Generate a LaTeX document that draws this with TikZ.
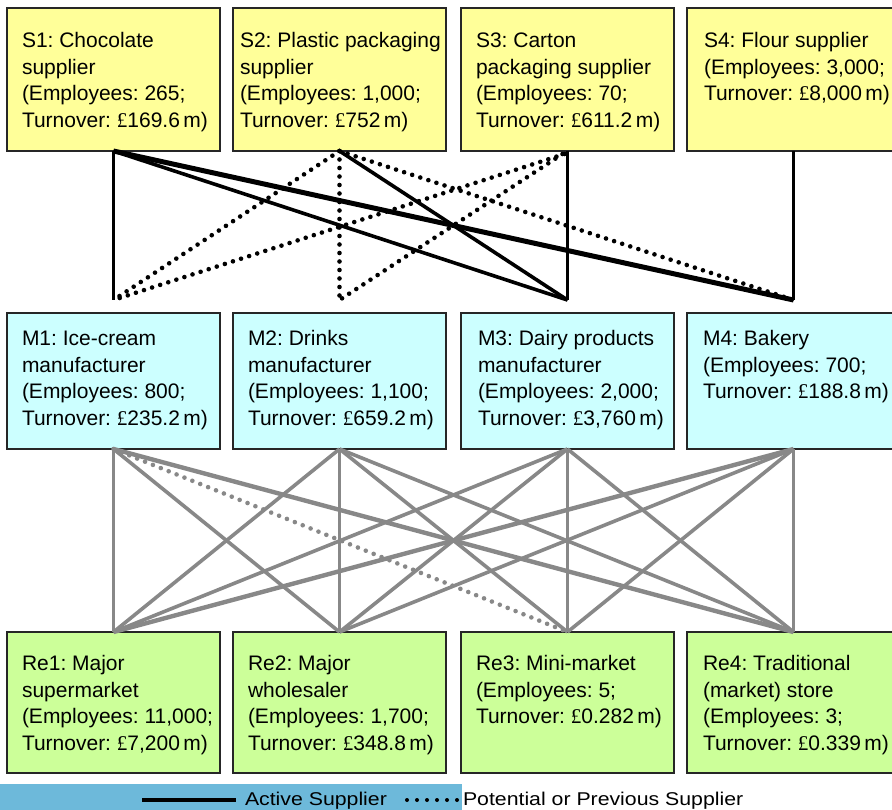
\documentclass[tikz,border=0pt]{standalone}
\usepackage{fontspec}
\setmainfont{Liberation Sans}
\newfontfamily\pndfont{Liberation Serif}
\usepackage{graphicx}
\definecolor{sy}{HTML}{FFFF99}
\definecolor{mc}{HTML}{CCFFFF}
\definecolor{rg}{HTML}{CCFF99}
\definecolor{legblue}{HTML}{6DB9DA}
\definecolor{gl}{HTML}{888888}
\newcommand{\ml}[1]{\begin{tabular}[t]{@{}l@{}}#1\end{tabular}}
\newcommand{\pnd}{{\pndfont £}}
\frenchspacing
\begin{document}
\begin{tikzpicture}[x=1pt,y=-1pt,
  box/.style={draw=black!85, line width=1.4pt, anchor=north west, inner sep=0pt, outer sep=0pt, minimum width=213pt},
  toprow/.style={box, fill=sy, minimum height=143pt},
  midrow/.style={box, fill=mc, minimum height=136pt},
  botrow/.style={box, fill=rg, minimum height=141pt},
  lbl/.style={anchor=base west, inner sep=0pt, outer sep=0pt, font=\fontsize{21}{26.7}\selectfont},
  leglbl/.style={anchor=base west, inner sep=0pt, outer sep=0pt, font=\fontsize{18.5}{22}\selectfont},
  act/.style={line width=3.6pt, black},
  pot/.style={line width=4.6pt, black, dash pattern=on 0pt off 8.5pt, line cap=round},
  gact/.style={line width=3.6pt, gl},
  gpot/.style={line width=4.6pt, gl, dash pattern=on 0pt off 8.5pt, line cap=round}]
\useasboundingbox (0,0) rectangle (892,809);

% top row
\node[toprow] (S1) at (7,8) {};
\node[toprow] (S2) at (233,8) {};
\node[toprow] (S3) at (461,8) {};
\node[toprow] (S4) at (687,8) {};
% middle row
\node[midrow] (M1) at (7,313) {};
\node[midrow] (M2) at (233,313) {};
\node[midrow] (M3) at (461,313) {};
\node[midrow] (M4) at (687,313) {};
% bottom row
\node[botrow] (R1) at (7,632) {};
\node[botrow] (R2) at (233,632) {};
\node[botrow] (R3) at (461,632) {};
\node[botrow] (R4) at (687,632) {};

% texts
\node[lbl] (S1t) at (22,47.5) {\ml{S1: Chocolate\\supplier\\(Employees: 265;\\Turnover: \pnd169.6\,m)}};
\node[lbl] (S2t) at (240,47.5) {\ml{S2: Plastic packaging\\supplier\\(Employees: 1,000;\\Turnover: \pnd752\,m)}};
\node[lbl] (S3t) at (476,47.5) {\ml{S3: Carton\\packaging supplier\\(Employees: 70;\\Turnover: \pnd611.2\,m)}};
\node[lbl] (S4t) at (704,47.5) {\ml{S4: Flour supplier\\(Employees: 3,000;\\Turnover: \pnd8,000\,m)}};

\node[lbl] (M1t) at (22,345.5) {\ml{M1: Ice-cream\\manufacturer\\(Employees: 800;\\Turnover: \pnd235.2\,m)}};
\node[lbl] (M2t) at (248,345.5) {\ml{M2: Drinks\\manufacturer\\(Employees: 1,100;\\Turnover: \pnd659.2\,m)}};
\node[lbl] (M3t) at (478,345.5) {\ml{M3: Dairy products\\manufacturer\\(Employees: 2,000;\\Turnover: \pnd3,760\,m)}};
\node[lbl] (M4t) at (703,345.5) {\ml{M4: Bakery\\(Employees: 700;\\Turnover: \pnd188.8\,m)}};

\node[lbl] (R1t) at (22,670.5) {\ml{Re1: Major\\supermarket\\(Employees: 11,000;\\Turnover: \pnd7,200\,m)}};
\node[lbl] (R2t) at (248,670.5) {\ml{Re2: Major\\wholesaler\\(Employees: 1,700;\\Turnover: \pnd348.8\,m)}};
\node[lbl] (R3t) at (476,670.5) {\ml{Re3: Mini-market\\(Employees: 5;\\Turnover: \pnd0.282\,m)}};
\node[lbl] (R4t) at (703,670.5) {\ml{Re4: Traditional\\(market) store\\(Employees: 3;\\Turnover: \pnd0.339\,m)}};

% end points above middle row
\coordinate (M1in) at ([yshift=13pt]M1.north);
\coordinate (M2in) at ([yshift=13pt]M2.north);
\coordinate (M3in) at ([yshift=13pt]M3.north);
\coordinate (M4in) at ([yshift=13pt]M4.north);

% supplier -> manufacturer
\draw[act] (S1.south) -- (M1in);
\draw[act] (S1.south) -- (M3in);
\draw[act, line width=5pt] (S1.south) -- (M4in);
\draw[pot] (S2.south) -- (M1in);
\draw[pot] (S2.south) -- (M2in);
\draw[act] (S2.south) -- (M3in);
\draw[pot] (S2.south) -- (M4in);
\draw[pot] ([xshift=-3pt,yshift=-3pt]S3.south) -- (M1in);
\draw[pot] ([xshift=-5pt,yshift=-3pt]S3.south) -- (M2in);
\draw[act] (S3.south) -- (M3in);
\draw[act] (S4.south) -- (M4in);

% manufacturer -> retailer
\draw[gact] (M1.south) -- (R1.north);
\draw[gact] (M1.south) -- (R2.north);
\draw[gpot] (M1.south) -- (R3.north);
\draw[gact, line width=4.4pt] (M1.south) -- (R4.north);
\draw[gact] (M2.south) -- (R1.north);
\draw[gact] (M2.south) -- (R2.north);
\draw[gact] (M2.south) -- (R3.north);
\draw[gact] (M2.south) -- (R4.north);
\draw[gact] (M3.south) -- (R1.north);
\draw[gact] (M3.south) -- (R2.north);
\draw[gact] (M3.south) -- (R3.north);
\draw[gact] (M3.south) -- (R4.north);
\draw[gact, line width=4.4pt] (M4.south) -- (R1.north);
\draw[gact] (M4.south) -- (R2.north);
\draw[gact] (M4.south) -- (R3.north);
\draw[gact] (M4.south) -- (R4.north);

% legend
\node[anchor=north west, fill=legblue, inner sep=0pt, outer sep=0pt, minimum width=462pt, minimum height=26pt] (legbar) at (0,784) {};
\coordinate (la1) at (142,800);
\coordinate (la2) at (236,800);
\draw[line width=4.5pt, black] (la1) -- (la2);
\node[leglbl] (lt1) at (245,805.5) {\scalebox{1.15}[1]{Active Supplier}};
\coordinate (lp1) at (407,800);
\coordinate (lp2) at (458,800);
\draw[pot, line width=4pt, dash pattern=on 0pt off 10pt] (lp1) -- (lp2);
\node[leglbl] (lt2) at (463,805.5) {\scalebox{1.15}[1]{Potential or Previous Supplier}};
\end{tikzpicture}
\end{document}
